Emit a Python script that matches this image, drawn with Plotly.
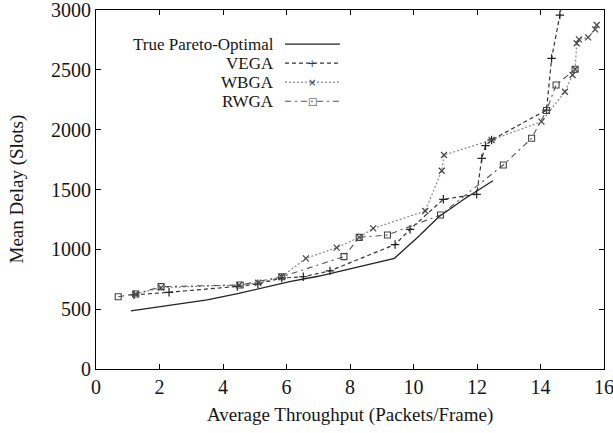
import plotly.graph_objects as go

# True Pareto-optimal front
pareto_x = [1.1, 1.9, 3.5, 4.5, 6.1, 7.0, 8.1, 9.4, 9.8, 10.1, 10.8, 11.6, 12.5]
pareto_y = [485, 515, 577, 632, 730, 775, 841, 925, 1022, 1092, 1273, 1420, 1573]

# VEGA
vega_x = [1.2, 2.3, 4.45, 5.1, 5.85, 6.53, 7.37, 9.42, 9.89, 10.94, 11.99, 12.15, 12.27, 12.46, 14.19, 14.35, 14.61, 14.68]
vega_y = [620, 641, 690, 712, 760, 771, 820, 1040, 1167, 1418, 1460, 1760, 1866, 1914, 2164, 2596, 2958, 3060]

# WBGA
wbga_x = [1.25, 2.05, 4.51, 5.11, 5.85, 6.61, 7.58, 8.29, 8.73, 10.37, 10.89, 10.96, 12.46, 14.03, 14.77, 15.01, 15.09, 15.14, 15.21, 15.5, 15.72, 15.77]
wbga_y = [627, 680, 702, 721, 771, 925, 1014, 1100, 1175, 1320, 1657, 1788, 1914, 2067, 2317, 2457, 2505, 2722, 2755, 2771, 2838, 2875]

# RWGA
rwga_x = [0.7, 1.25, 2.05, 4.54, 5.85, 7.81, 8.29, 9.18, 10.85, 12.83, 13.72, 14.19, 14.49, 15.09]
rwga_y = [604, 627, 688, 702, 771, 939, 1100, 1120, 1287, 1705, 1928, 2160, 2373, 2505]

x_ticks = [0, 2, 4, 6, 8, 10, 12, 14, 16]
y_ticks = [0, 500, 1000, 1500, 2000, 2500, 3000]

series_names = ["True Pareto-Optimal", "VEGA", "WBGA", "RWGA"]
legend_glyphs = ["", "+", "×", "□"]

x_title = "Average Throughput (Packets/Frame)"
y_title = "Mean Delay (Slots)"

FONT = "Liberation Serif, Times New Roman, serif"
TXT = "#151515"

styles = [
    dict(line=dict(color="#222222", width=1.3, dash="solid"), mode="lines", marker=None),
    dict(line=dict(color="#333333", width=1.2, dash="4px,3px"), mode="lines+markers",
         marker=dict(symbol="cross-thin-open", size=6, color="#222222", line=dict(width=1.2, color="#222222"))),
    dict(line=dict(color="#888888", width=1.2, dash="2px,2px"), mode="lines+markers",
         marker=dict(symbol="x-thin-open", size=6, color="#444444", line=dict(width=1.2, color="#444444"))),
    dict(line=dict(color="#555555", width=1.1, dash="6px,4px,2px,4px"), mode="lines+markers",
         marker=dict(symbol="square-open", size=6, color="#444444", line=dict(width=1.1, color="#444444"))),
]

data = [(pareto_x, pareto_y), (vega_x, vega_y), (wbga_x, wbga_y), (rwga_x, rwga_y)]

fig = go.Figure()
for (xs, ys), name, st in zip(data, series_names, styles):
    kw = dict(x=xs, y=ys, mode=st["mode"], name=name, line=st["line"], showlegend=False)
    if st["marker"] is not None:
        kw["marker"] = st["marker"]
    fig.add_trace(go.Scatter(**kw))

# Custom legend (text right-aligned, key sample to the right), as in the reference
leg_rows_y = [0.905, 0.852, 0.799, 0.746]
text_right = 0.352
key_x0, key_x1 = 0.372, 0.480
for i, (name, glyph, st) in enumerate(zip(series_names, legend_glyphs, styles)):
    yy = leg_rows_y[i]
    fig.add_annotation(x=text_right, y=yy, xref="paper", yref="paper", text=name,
                       showarrow=False, xanchor="right", yanchor="middle", borderpad=0,
                       font=dict(family=FONT, size=17, color=TXT))
    fig.add_shape(type="line", xref="paper", yref="paper", x0=key_x0, x1=key_x1, y0=yy, y1=yy,
                  line=dict(color=st["line"]["color"], width=st["line"]["width"], dash=st["line"]["dash"]))
    if glyph:
        fig.add_annotation(x=(key_x0 + key_x1) / 2, y=yy, xref="paper", yref="paper", text=glyph,
                           showarrow=False, xanchor="center", yanchor="middle", borderpad=0,
                           font=dict(family="DejaVu Sans", size=10, color="#333333"))

# Axis titles
fig.add_annotation(x=0.5, y=0, xref="paper", yref="paper", text=x_title, showarrow=False,
                   xanchor="center", yanchor="middle", yshift=-46,
                   font=dict(family=FONT, size=19, color=TXT))
fig.add_annotation(x=0, y=0.5, xref="paper", yref="paper", text=y_title, showarrow=False,
                   xanchor="center", yanchor="middle", xshift=-80, textangle=-90,
                   font=dict(family=FONT, size=19, color=TXT))

axis_common = dict(showline=True, linecolor="black", linewidth=1.2, mirror="ticks",
                   ticks="inside", ticklen=5, tickcolor="black", showgrid=False,
                   zeroline=False, automargin=False, ticklabeloverflow="allow",
                   tickfont=dict(family=FONT, size=20, color=TXT))

fig.update_layout(
    width=613, height=433,
    margin=dict(l=96, r=9, t=10, b=64),
    paper_bgcolor="white", plot_bgcolor="white",
    font=dict(family=FONT, size=19, color=TXT),
    xaxis=dict(range=[0, 16], tickvals=x_ticks, **axis_common),
    yaxis=dict(range=[0, 3000], tickvals=y_ticks, **axis_common),
    showlegend=False,
)

fig.write_html("out.html", config={"displayModeBar": False},
               post_script="document.body.style.margin='0';document.body.style.padding='0';document.body.style.overflow='hidden';")
